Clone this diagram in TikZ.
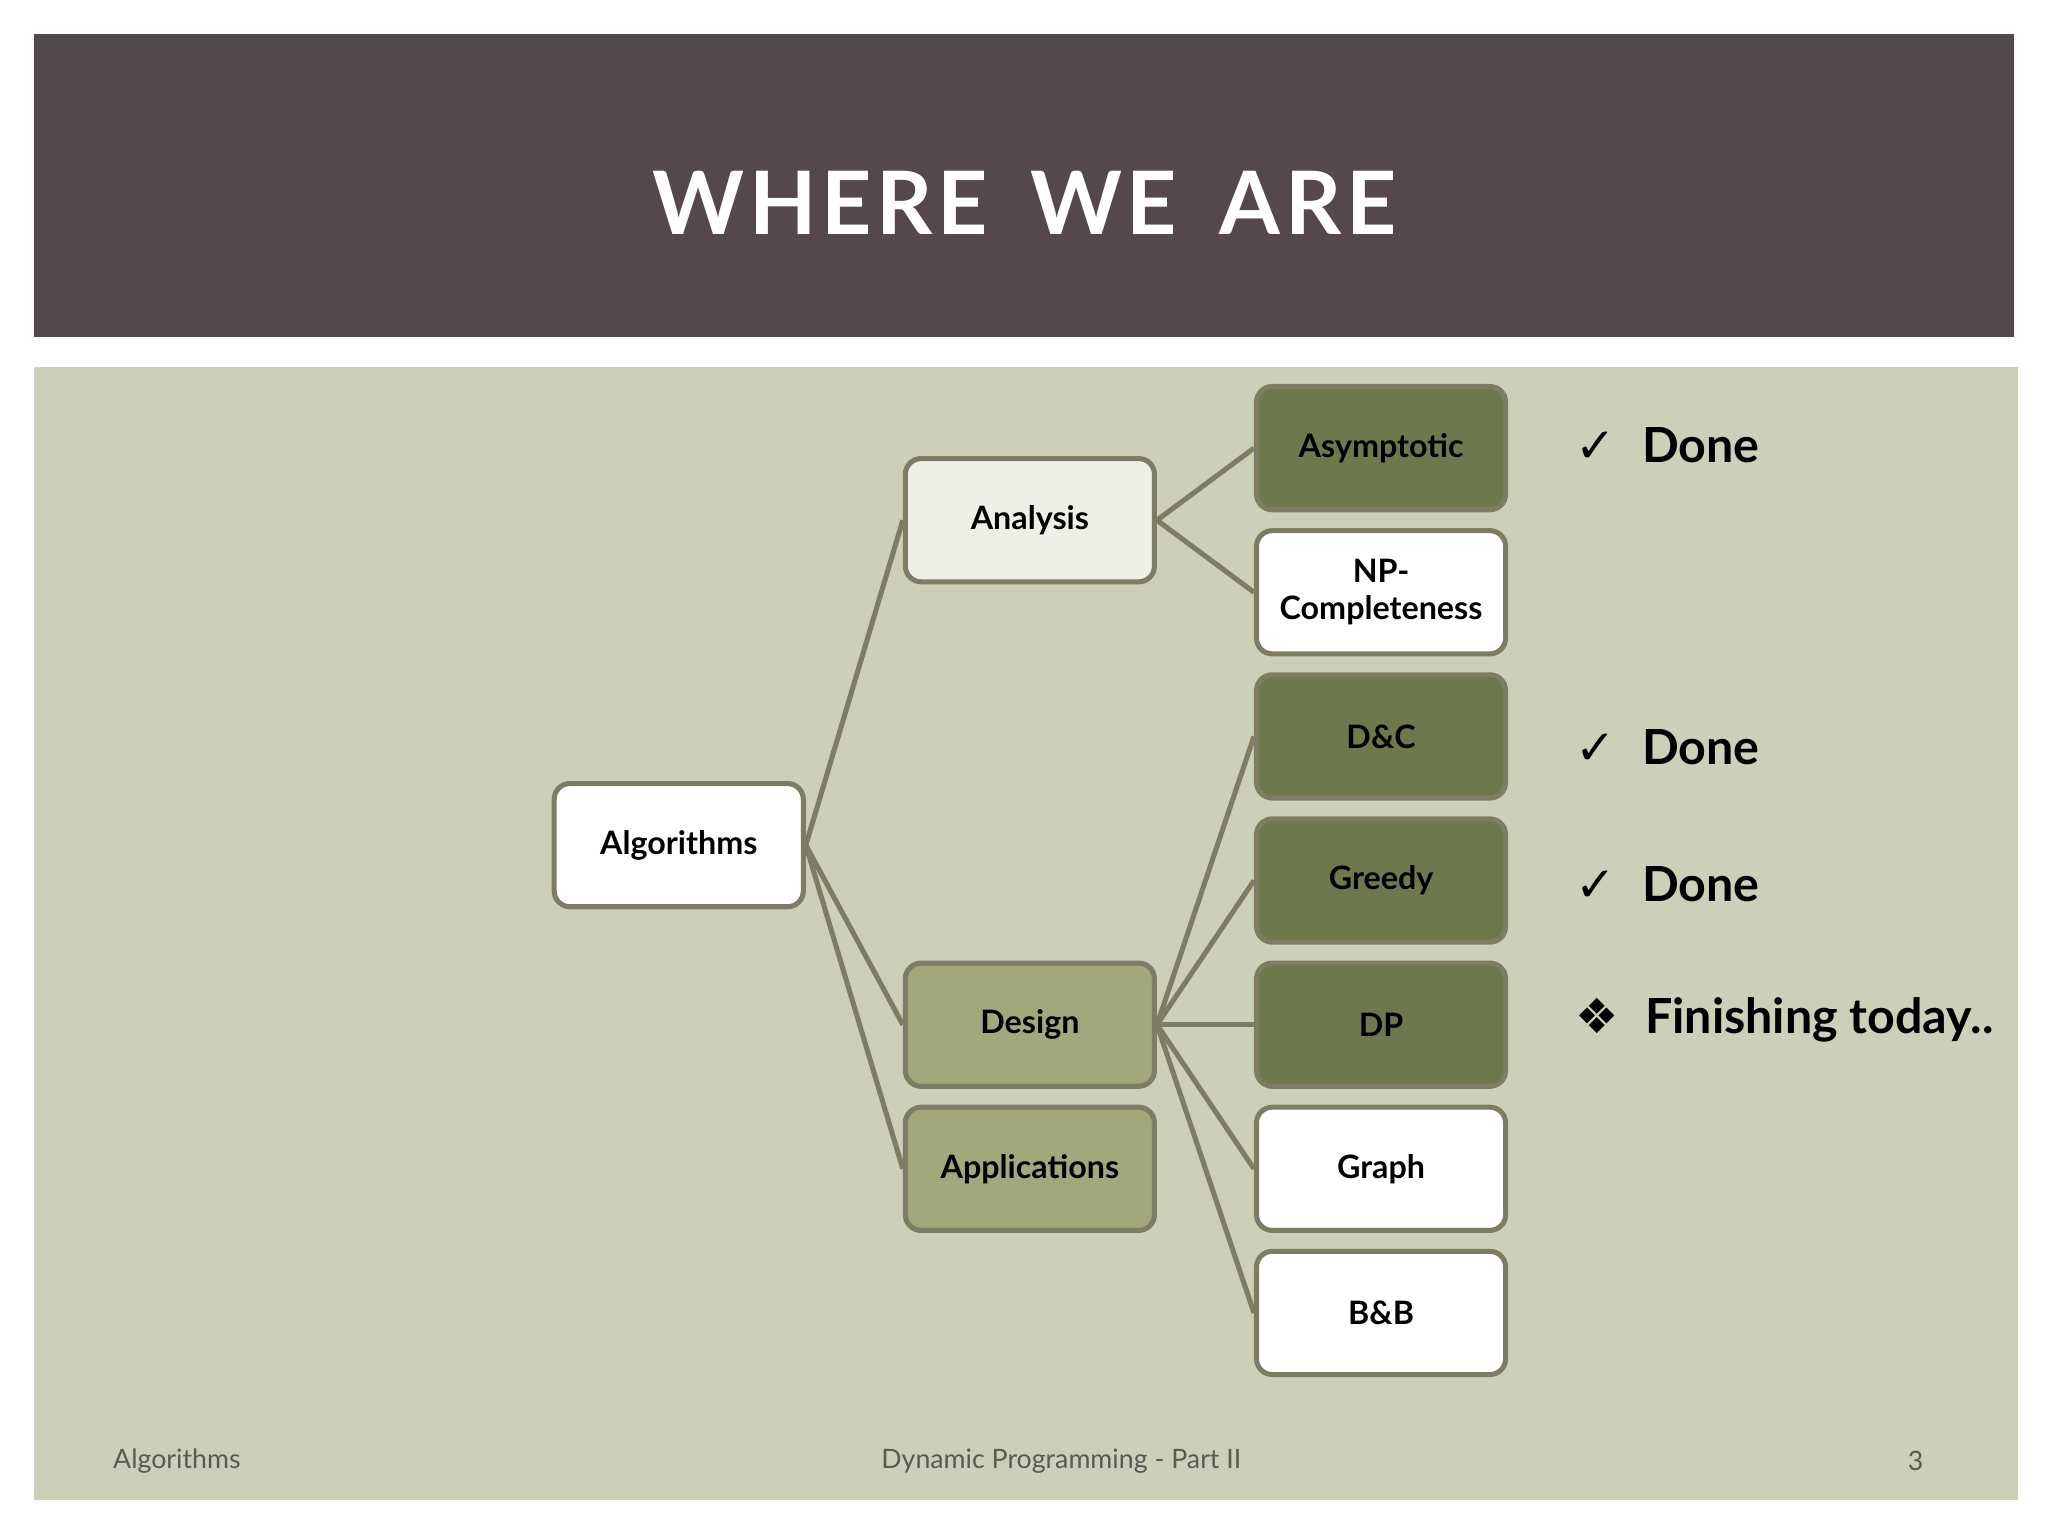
\documentclass[tikz,border=0pt]{standalone}
\usepackage{fontspec}
\setmainfont{Lato}
\newfontfamily\symfont{DejaVu Sans}
\usetikzlibrary{positioning}
\definecolor{titlebar}{HTML}{54484B}
\definecolor{panel}{HTML}{CDD0B8}
\definecolor{boxline}{HTML}{7F7C66}
\definecolor{darkolive}{HTML}{6D784C}
\definecolor{midolive}{HTML}{A0A87C}
\definecolor{paleolive}{HTML}{EEEFE7}
\definecolor{footgray}{HTML}{5A5A50}
\tikzset{topicbox/.style={
    % The shape:
    rectangle, rounded corners=1.2mm,
    % The size:
    minimum width=1.9cm, minimum height=0.94cm,
    % The border:
    line width=1.1pt, draw=boxline,
    fill=white,
    % Font
    font=\fontsize{7}{8}\selectfont\bfseries, align=center, inner sep=1pt
    },
    darkbox/.style={topicbox, fill=darkolive},
    midbox/.style={topicbox, fill=midolive},
    palebox/.style={topicbox, fill=paleolive},
    branch/.style={draw=boxline, line width=1.1pt},
    status/.style={anchor=west, font=\fontsize{10.5}{13}\selectfont\bfseries},
    footer/.style={font=\fontsize{5.8}{7}\selectfont, text=footgray},
}
\begin{document}
\begin{tikzpicture}[x=0.01cm, y=-0.01cm]
    \useasboundingbox (0,0) rectangle (1563,1172);
    \fill[white] (0,0) rectangle (1563,1172);
    \fill[titlebar] (26,26) rectangle (1537,257);
    \fill[panel] (26,280) rectangle (1540,1145);
    \node (title) [text=white, font=\fontsize{19}{22}\selectfont\bfseries] at (782,155)
        {W\kern1ptH\kern1ptE\kern1ptR\kern1ptE\ \ W\kern1ptE\ \ A\kern1ptR\kern1ptE};

    \node (algo)   [topicbox] at (518,645) {Algorithms};
    \node (anal)   [palebox]  at (786,397) {Analysis};
    \node (design) [midbox]   at (786,782) {Design};
    \node (appl)   [midbox]   at (786,892) {Applications};

    \node (asym)  [darkbox]  at (1054,342)  {Asymptotic};
    \node (npc)   [topicbox] at (1054,452)  {NP-\\Completeness};
    \node (dc)    [darkbox]  at (1054,562)  {D\&C};
    \node (greed) [darkbox]  at (1054,672)  {Greedy};
    \node (dp)    [darkbox]  at (1054,782)  {DP};
    \node (graph) [topicbox] at (1054,892)  {Graph};
    \node (bb)    [topicbox] at (1054,1002) {B\&B};

    \foreach \n in {anal,design,appl}
        \draw[branch] (algo.east) -- (\n.west);
    \foreach \n in {asym,npc}
        \draw[branch] (anal.east) -- (\n.west);
    \foreach \n in {dc,greed,dp,graph,bb}
        \draw[branch] (design.east) -- (\n.west);

    \node (s1) [status] at (1190,340) {{\symfont ✓}\hspace{0.2cm}Done};
    \node (s2) [status] at (1190,570) {{\symfont ✓}\hspace{0.2cm}Done};
    \node (s3) [status] at (1190,675) {{\symfont ✓}\hspace{0.2cm}Done};
    \node (s4) [status] at (1190,778) {{\symfont ❖}\hspace{0.2cm}Finishing today..};

    \node (f1) [footer, anchor=west] at (74,1115) {Algorithms};
    \node (f2) [footer] at (810,1115) {Dynamic Programming - Part II};
    \node (f3) [footer] at (1462,1115) {3};
\end{tikzpicture}
\end{document}
